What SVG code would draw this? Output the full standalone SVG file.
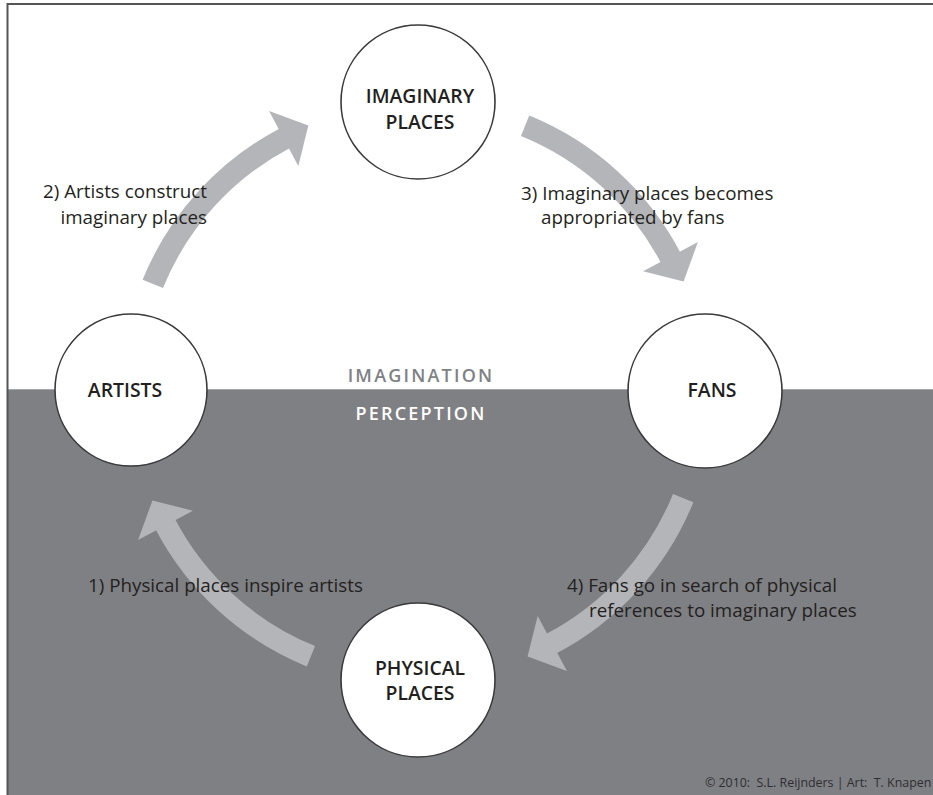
<svg xmlns="http://www.w3.org/2000/svg" xmlns:xlink="http://www.w3.org/1999/xlink" width="933" height="795" viewBox="0 0 933 795">
<style>
.node circle{fill:#fff;stroke:#3a3a3c;stroke-width:1.6}
.nl{font-family:"Open Sans","Noto Sans",sans-serif;font-weight:600;font-size:19.4px;fill:#231f20;text-anchor:middle}
.lbl{font-family:"Open Sans","Noto Sans",sans-serif;font-size:18.8px;fill:#231f20}
.band{font-family:"Open Sans","Noto Sans",sans-serif;font-weight:600;font-size:18px;letter-spacing:2.2px;text-anchor:middle}
.credit{font-family:"Open Sans","Noto Sans",sans-serif;font-size:12.4px;fill:#2e2e30}
</style>
<defs>
<g id="arrow">
<path d="M152.8,283.9 A286,286 0 0 1 285.3,138.0" fill="none" stroke="#b4b5b9" stroke-width="22"/>
<polygon points="269.1,111.1 308.4,125.4 298.3,165.9" fill="#b4b5b9"/>
</g>
</defs>
<rect x="0" y="0" width="933" height="795" fill="#fff"/>
<rect x="8" y="389" width="925" height="406" fill="#7f8084"/>
<line x1="8" y1="389.5" x2="933" y2="389.5" stroke="#a6a7ab" stroke-width="1"/>
<line x1="7" y1="4" x2="933" y2="4" stroke="#555" stroke-width="2"/>
<line x1="7.5" y1="3" x2="7.5" y2="795" stroke="#555" stroke-width="2"/>
<text class="band" x="421" y="382" fill="#808185">IMAGINATION</text>
<text class="band" x="421" y="420" fill="#ffffff">PERCEPTION</text>
<g id="connectors">
<use xlink:href="#arrow" transform="rotate(-90 418 391)"/>
<use xlink:href="#arrow"/>
<use xlink:href="#arrow" transform="rotate(90 418 391)"/>
<use xlink:href="#arrow" transform="rotate(180 418 391)"/>
</g>
<g id="labels">
<text class="lbl" x="207" y="198" text-anchor="end">2) Artists construct</text>
<text class="lbl" x="207" y="224" text-anchor="end">imaginary places</text>
<text class="lbl" x="521" y="200">3) Imaginary places becomes</text>
<text class="lbl" x="541" y="224">appropriated by fans</text>
<text class="lbl" x="88" y="592">1) Physical places inspire artists</text>
<text class="lbl" x="567" y="592">4) Fans go in search of physical</text>
<text class="lbl" x="589" y="617">references to imaginary places</text>
</g>
<g id="node-imaginary" class="node">
<circle cx="418" cy="102" r="77"/>
<text class="nl" x="420" y="103">IMAGINARY</text>
<text class="nl" x="420" y="129">PLACES</text>
</g>
<g id="node-artists" class="node">
<circle cx="131" cy="390" r="76"/>
<text class="nl" x="125" y="397">ARTISTS</text>
</g>
<g id="node-fans" class="node">
<circle cx="705" cy="391" r="77"/>
<text class="nl" x="712" y="397">FANS</text>
</g>
<g id="node-physical" class="node">
<circle cx="418" cy="680" r="77"/>
<text class="nl" x="420" y="675">PHYSICAL</text>
<text class="nl" x="420" y="700">PLACES</text>
</g>
<text class="credit" x="705" y="787" xml:space="preserve">© 2010:  S.L. Reijnders | Art:  T. Knapen</text>
</svg>
